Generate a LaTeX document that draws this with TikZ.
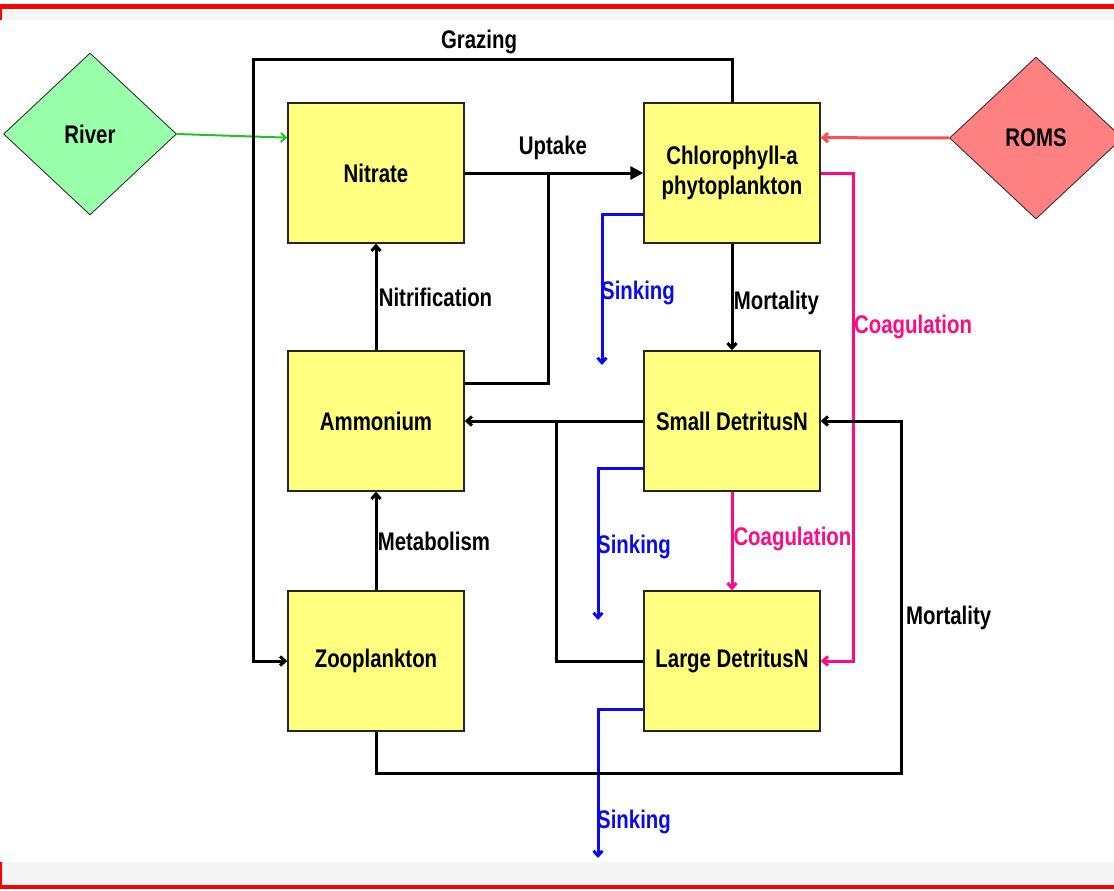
\documentclass[tikz,border=0pt]{standalone}
\usepackage{fontspec}
\setmainfont{Liberation Sans}[FakeStretch=0.8]
\usepackage{xcolor}
\usetikzlibrary{shapes.geometric,arrows.meta,calc}
\definecolor{poolyellow}{HTML}{FFFF80}
\definecolor{rivergreen}{HTML}{99FFAA}
\definecolor{romsred}{HTML}{FF8080}
\definecolor{riverline}{HTML}{22C422}
\definecolor{romsline}{HTML}{FF5050}
\definecolor{coagpink}{HTML}{FF0A80}
\definecolor{sinkblue}{HTML}{0A0AF0}

\begin{document}
\begin{tikzpicture}[x=1pt,y=-1pt]
		\tikzstyle{every node}+=[font=\fontsize{25.5pt}{30pt}\selectfont\bfseries]
		\tikzstyle{pool}=[draw=black!85, line width=1.4pt, fill=poolyellow, minimum width=176pt, minimum height=140pt, inner sep=0pt, align=center]
		\tikzstyle{source}=[diamond, draw=black!80, line width=0.9pt, minimum width=173pt, minimum height=162pt, inner sep=0pt]
		\tikzstyle{flow}=[black, line width=3pt]
		\tikzstyle{tip}=[-{Straight Barb[length=5pt,width=9pt]}]
		\tikzstyle{sink}=[sinkblue, line width=3pt, tip]
		\tikzstyle{coag}=[coagpink, line width=3pt, tip]
		\useasboundingbox (0,0) rectangle (1114,891);
		\fill [black!4] (2,10) rectangle (1114,20);
		\fill [black!4] (2,862) rectangle (1114,885);
		\fill [red] (0,4) rectangle (1114,9);
		\fill [red] (0,9) rectangle (2,20);
		\fill [red] (0,885) rectangle (1114,889);
		\fill [red] (0,862) rectangle (2,885);
		\node [pool] (nitrate) at (376,173) {Nitrate};
		\node [pool] (chla) at (732,173) {Chlorophyll-a\\phytoplankton};
		\node [pool] (ammonium) at (376,421) {Ammonium};
		\node [pool] (smalldet) at (732,421) {Small DetritusN};
		\node [pool] (zoo) at (376,661) {Zooplankton};
		\node [pool] (largedet) at (732,661) {Large DetritusN};
		\node [source, fill=rivergreen] (river) at (90,134) {River};
		\node [source, fill=romsred] (roms) at (1036,138) {ROMS};
		\coordinate (grazecorner) at (253,60);
		\coordinate (uptakejoin) at ($(nitrate.east)!0.47!(chla.west)$);
		\coordinate (chlasink) at (602,365);
		\coordinate (coagcorner) at (853,400);
		\coordinate (largejoin) at (556,421);
		\coordinate (smallsink) at (598,620);
		\coordinate (largesink) at (598,858);
		\coordinate (zoomort) at (901,773);
		\draw [riverline, line width=2pt, tip] (river.east) -- ($(nitrate.north west)!0.25!(nitrate.south west)$);
		\draw [romsline, line width=3pt, tip] (roms.west) -- ($(chla.north east)!0.25!(chla.south east)$);
		\draw [flow, tip] (chla.north) |- (grazecorner) |- (zoo.west);
		\node (grazing) at (479,42) {Grazing};
		\draw [flow, -{Triangle[length=13pt,width=13pt]}] (nitrate.east) -- (chla.west);
		\node (uptake) at (553,148) {Uptake};
		\draw [flow] ([yshift=38pt]ammonium.east) -| (uptakejoin);
		\draw [flow, tip] (ammonium.north) -- (nitrate.south) node [midway, right, xshift=-2pt] {Nitrification};
		\draw [flow, tip] (zoo.north) -- (ammonium.south) node [midway, right, xshift=-3pt] {Metabolism};
		\draw [flow, tip] (chla.south) -- (smalldet.north) node [pos=0.56, right, xshift=-3pt] {Mortality};
		\draw [sink] ([yshift=-41pt]chla.west) -| (chlasink);
		\node [sinkblue, anchor=west, inner sep=0pt] (sinkchla) at (601,293) {Sinking};
		\draw [coag] (chla.east) -| (coagcorner) |- (largedet.east);
		\node [coagpink, anchor=west, inner sep=0pt] (coagchla) at (854,327) {Coagulation};
		\draw [flow, tip] (smalldet.west) -- (ammonium.east);
		\draw [flow] (largedet.west) -| (largejoin);
		\draw [sink] ([yshift=-47pt]smalldet.west) -| (smallsink);
		\node [sinkblue, anchor=west, inner sep=0pt] (sinksmall) at (597,547) {Sinking};
		\draw [coag] (smalldet.south) -- (largedet.north) node [midway, anchor=west, inner sep=0pt, yshift=2pt] {Coagulation};
		\draw [sink] ([yshift=-48pt]largedet.west) -| (largesink);
		\node [sinkblue, anchor=west, inner sep=0pt] (sinklarge) at (597,822) {Sinking};
		\draw [flow, tip] (zoo.south) |- (zoomort) |- (smalldet.east);
		\node [anchor=west, inner sep=0pt] (mortzoo) at (906,618) {Mortality};
	\end{tikzpicture}
\end{document}
